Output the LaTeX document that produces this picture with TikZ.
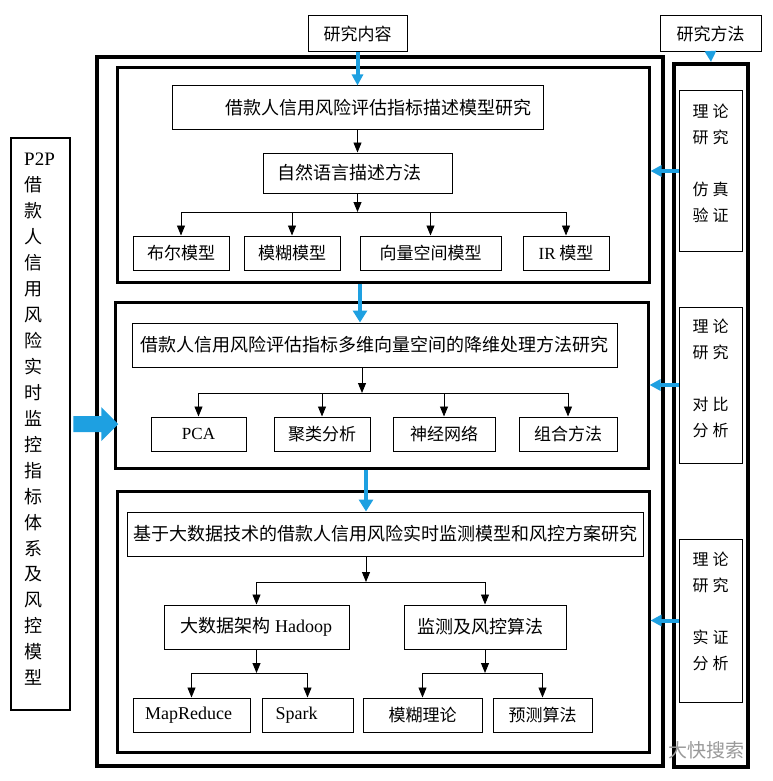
\documentclass[tikz,border=0pt]{standalone}
\usepackage{fontspec}
\setmainfont{Liberation Serif}
\newfontfamily\cjk{Noto Sans CJK SC}
\usetikzlibrary{arrows.meta}
\definecolor{flowblue}{RGB}{30,160,225}
\tikzset{
  box/.style={draw, line width=1pt, inner sep=0pt, font=\fontsize{18}{22}\selectfont\cjk},
  leaf/.style={box, font=\fontsize{17}{22}\selectfont\cjk},
  panel/.style={draw, line width=3pt, inner sep=0pt},
  outerbox/.style={draw, line width=4pt, inner sep=0pt},
  leftbox/.style={draw, line width=2.5pt, inner sep=0pt},
  rtext/.style={align=center, inner sep=0pt, font=\fontsize{16}{26}\selectfont\cjk},
  arr/.style={line width=0.9pt, -{Triangle[width=8pt,length=10pt]}},
  conn/.style={line width=0.9pt},
  barr/.style={flowblue, line width=4.5pt, -{Triangle[width=14pt,length=12pt]}},
  barrs/.style={flowblue, line width=4pt, -{Triangle[width=11pt,length=11pt]}},
}
\begin{document}
\begin{tikzpicture}[x=1pt,y=-1pt]
\useasboundingbox (0,0) rectangle (772,781);
\fill[white] (0,0) rectangle (772,781);

% headers
\node[box, font=\fontsize{17}{22}\selectfont\cjk, minimum width=99pt, minimum height=36pt] (nr) at (357.5,34) {研究内容};
\node[box, font=\fontsize{17}{22}\selectfont\cjk, minimum width=101pt, minimum height=36pt] (fm) at (710.5,34) {研究方法};

% frames
\node[outerbox, minimum width=566pt, minimum height=709pt] (outer) at (380,411.5) {};
\node[outerbox, minimum width=74pt, minimum height=703pt] (rcol) at (711,415.5) {};
\node[panel, minimum width=532pt, minimum height=214pt] (p1) at (383,175) {};
\node[panel, minimum width=533pt, minimum height=166pt] (p2) at (381.5,385) {};
\node[panel, minimum width=532pt, minimum height=261pt] (p3) at (383,621.5) {};

% left box
\node[leftbox, minimum width=59pt, minimum height=572pt] (left) at (40.5,424) {};
\node[anchor=north west, align=left, inner sep=0pt, font=\fontsize{18}{25.95}\selectfont\cjk] (lefttext) at (24,153)
  {{\rmfamily\fontsize{19}{25.95}\selectfont P2P}\\借\\款\\人\\信\\用\\风\\险\\实\\时\\监\\控\\指\\标\\体\\系\\及\\风\\控\\模\\型};
\fill[flowblue] (left.east) ++(2,-8) -- ++(28,0) -- ++(0,-9) -- ++(17,17) -- ++(-17,17) -- ++(0,-9) -- ++(-28,0) -- cycle;

% right column
\node[box, minimum width=63pt, minimum height=160pt] (ri1) at (710.5,171) {};
\node[rtext] (ri1t) at (710.5,163.5) {理\hspace{4pt}论\\研\hspace{4pt}究\\[26pt]仿\hspace{4pt}真\\验\hspace{4pt}证};
\node[box, minimum width=63pt, minimum height=156pt] (ri2) at (710.5,385) {};
\node[rtext] (ri2t) at (710.5,378.5) {理\hspace{4pt}论\\研\hspace{4pt}究\\[26pt]对\hspace{4pt}比\\分\hspace{4pt}析};
\node[box, minimum width=63pt, minimum height=163pt] (ri3) at (710.5,620.5) {};
\node[rtext] (ri3t) at (710.5,611.5) {理\hspace{4pt}论\\研\hspace{4pt}究\\[26pt]实\hspace{4pt}证\\分\hspace{4pt}析};

% panel 1
\node[box, minimum width=371pt, minimum height=43pt] (b1) at (357.5,107.5) {\hspace*{41pt}借款人信用风险评估指标描述模型研究};
\node[box, minimum width=189pt, minimum height=40pt] (nat) at (357.5,173) {自然语言描述方法\hspace*{16pt}};
\coordinate (j1) at (357.5,212);
\node[leaf, minimum width=96pt, minimum height=34pt] (l1) at (181,253) {布尔模型};
\node[leaf, minimum width=96pt, minimum height=34pt] (l2) at (292,253) {模糊模型};
\node[leaf, minimum width=141pt, minimum height=34pt] (l3) at (430.5,253) {向量空间模型};
\node[leaf, minimum width=86pt, minimum height=34pt] (l4) at (566,253) {{\rmfamily IR} 模型};

% panel 2
\node[box, minimum width=485pt, minimum height=44pt] (b2) at (374.5,345) {借款人信用风险评估指标多维向量空间的降维处理方法研究};
\coordinate (j2) at (362,393);
\node[leaf, minimum width=95pt, minimum height=34pt] (m1) at (198.5,434) {\rmfamily PCA};
\node[leaf, minimum width=96pt, minimum height=34pt] (m2) at (322,434) {聚类分析};
\node[leaf, minimum width=102pt, minimum height=34pt] (m3) at (444,434) {神经网络};
\node[leaf, minimum width=98pt, minimum height=34pt] (m4) at (568,434) {组合方法};

% panel 3
\node[box, minimum width=516pt, minimum height=44pt] (b3) at (385,534) {基于大数据技术的借款人信用风险实时监测模型和风控方案研究};
\coordinate (j3) at (366,582);
\node[box, minimum width=185pt, minimum height=44pt] (h) at (256.5,627) {大数据架构 {\rmfamily Hadoop}};
\node[box, minimum width=162pt, minimum height=44pt] (m) at (485,627) {监测及风控算法\hspace*{10pt}};
\coordinate (j4) at (256.5,673);
\coordinate (j5) at (485,673);
\node[box, minimum width=117pt, minimum height=34pt] (q1) at (191.5,715) {\rmfamily MapReduce\hspace*{6pt}};
\node[box, minimum width=91pt, minimum height=34pt] (q2) at (307.5,715) {{\rmfamily Spark}\hspace*{22pt}};
\node[leaf, minimum width=119pt, minimum height=34pt] (q3) at (422.5,715) {模糊理论};
\node[leaf, minimum width=99pt, minimum height=34pt] (q4) at (542.5,715) {预测算法};

% blue arrows
\coordinate (a2) at (360,0);
\coordinate (a3) at (366,0);
\draw[barrs] (nr.south) -- (b1.north);
\draw[barr] (p1.south -| a2) -- (b2.north -| a2);
\draw[barr] (p2.south -| a3) -- (b3.north -| a3);
\draw[barrs] (fm.south) -- (rcol.north);
\draw[barrs] (ri1.west) -- (ri1.west -| p1.east);
\draw[barrs] (ri2.west) -- (ri2.west -| p2.east);
\draw[barrs] (ri3.west) -- (ri3.west -| p3.east);

% black connectors panel 1
\draw[arr] (b1.south) -- (nat.north);
\draw[arr] (nat.south) -- (j1);
\draw[conn] (l1.north |- j1) -- (l4.north |- j1);
\foreach \n in {l1,l2,l3,l4} \draw[arr] (\n.north |- j1) -- (\n.north);

% panel 2
\draw[arr] (b2.south -| j2) -- (j2);
\draw[conn] (m1.north |- j2) -- (m4.north |- j2);
\foreach \n in {m1,m2,m3,m4} \draw[arr] (\n.north |- j2) -- (\n.north);

% panel 3
\draw[arr] (b3.south -| j3) -- (j3);
\draw[conn] (h.north |- j3) -- (m.north |- j3);
\foreach \n in {h,m} \draw[arr] (\n.north |- j3) -- (\n.north);
\draw[arr] (h.south) -- (j4);
\draw[conn] (q1.north |- j4) -- (q2.north |- j4);
\foreach \n in {q1,q2} \draw[arr] (\n.north |- j4) -- (\n.north);
\draw[arr] (m.south) -- (j5);
\draw[conn] (q3.north |- j5) -- (q4.north |- j5);
\foreach \n in {q3,q4} \draw[arr] (\n.north |- j5) -- (\n.north);

% watermark
\node[text=black!40, inner sep=0pt, font=\fontsize{19}{20}\selectfont\cjk] (wm) at (706,750) {大快搜索};
\end{tikzpicture}
\end{document}
